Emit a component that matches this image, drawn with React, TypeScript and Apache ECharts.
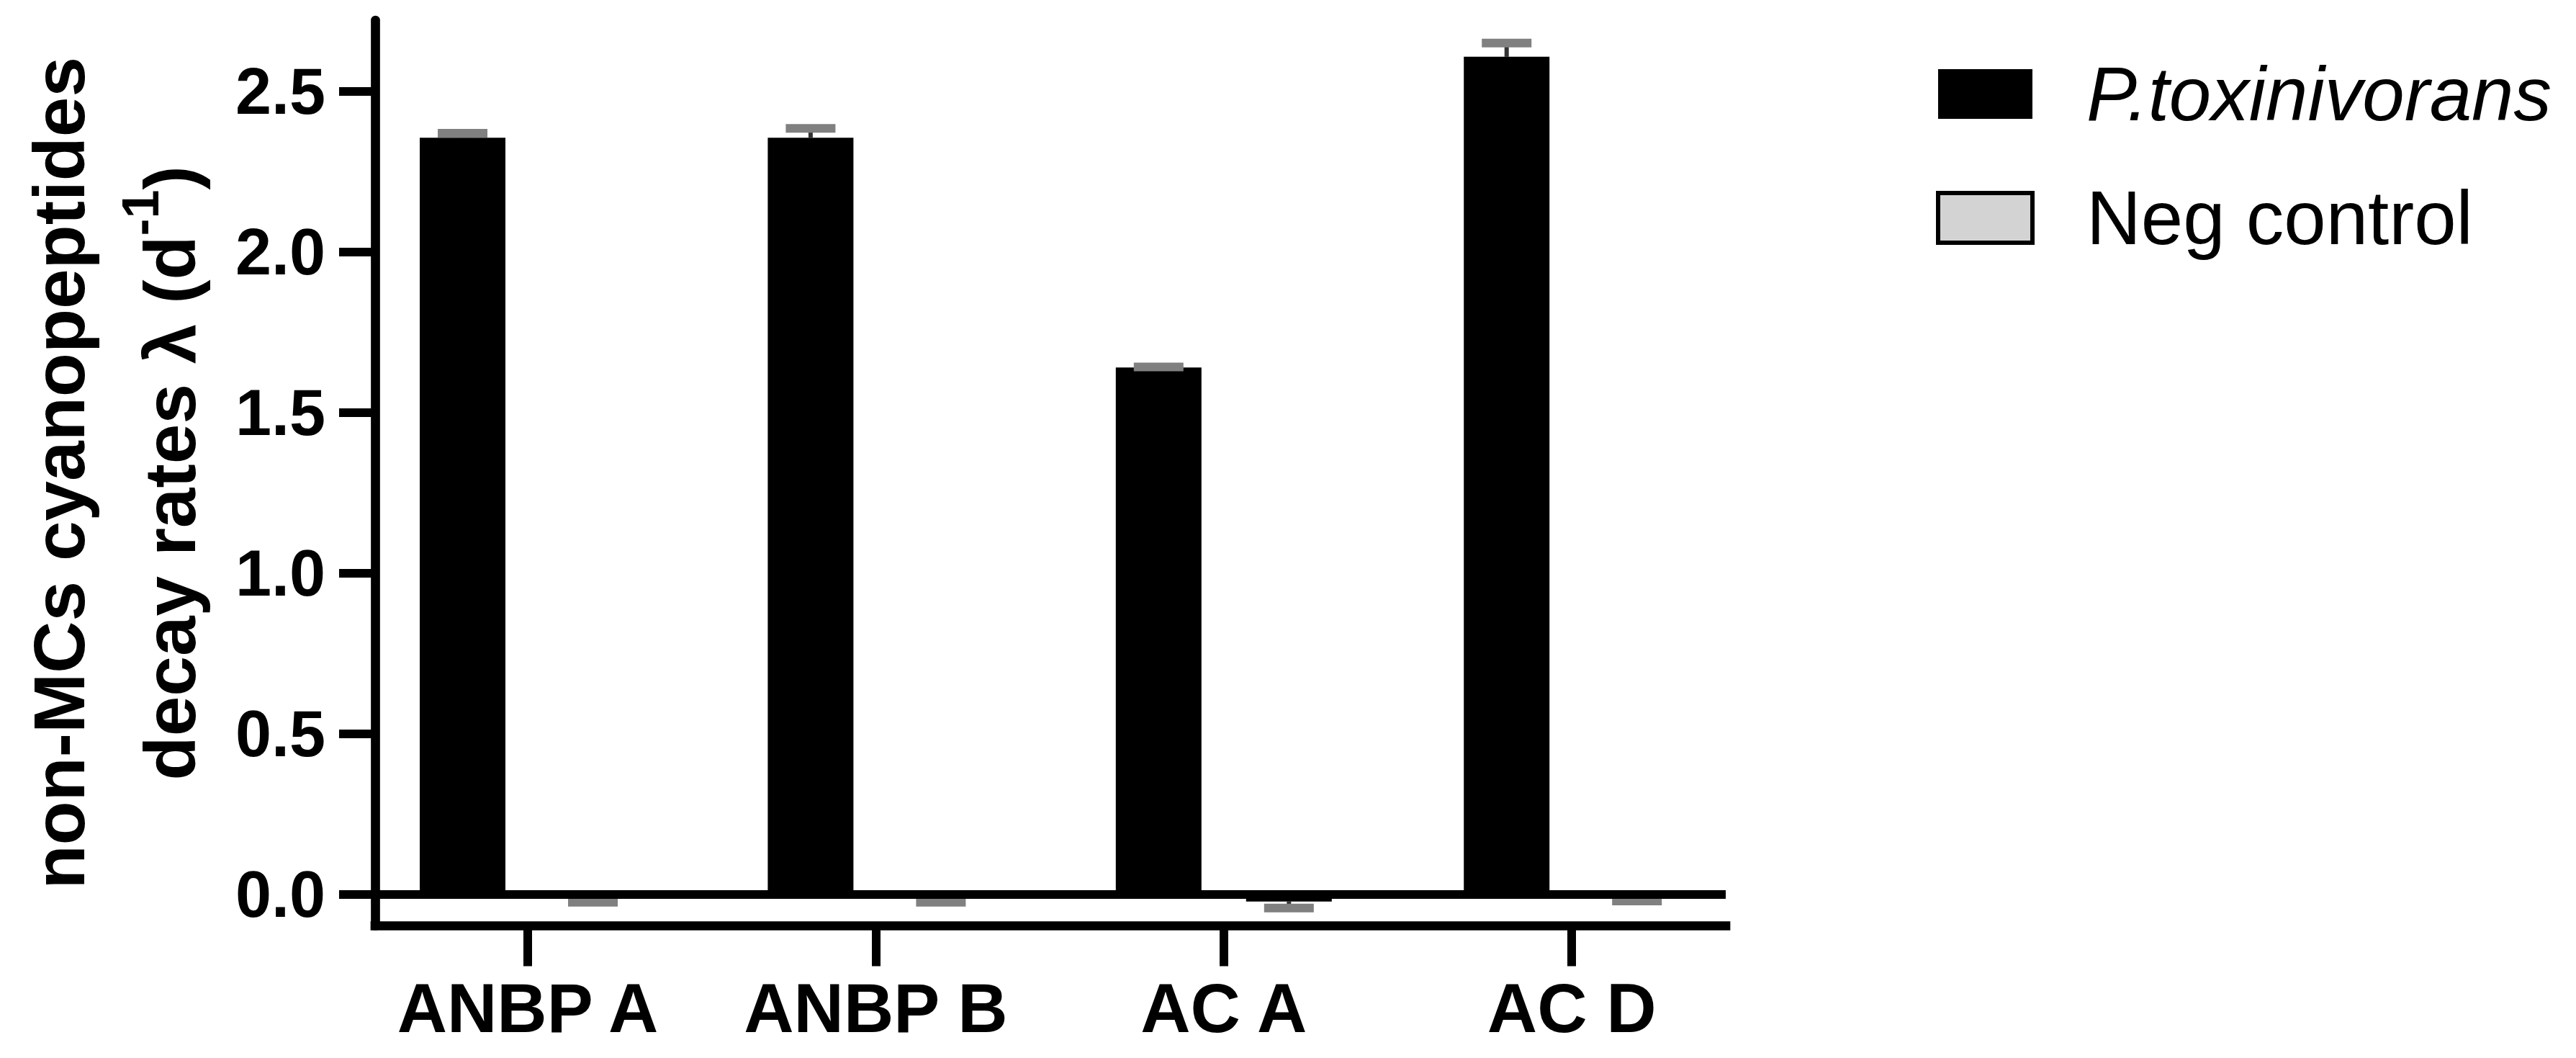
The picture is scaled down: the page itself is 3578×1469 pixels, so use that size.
import React, { useEffect, useRef } from "react";
import * as echarts from "echarts";

// ---------- data ----------
const categories = ["ANBP A", "ANBP B", "AC A", "AC D"];
const seriesNames = ["P.toxinivorans", "Neg control"];
const ptoxMeans = [2.355, 2.355, 1.64, 2.607];
const ptoxErrors = [0.014, 0.029, 0.002, 0.043];
const negMeans = [-0.008, -0.008, -0.022, -0.005];
const negErrors = [0.016, 0.016, 0.02, 0.015];
const yTickValues = [0, 0.5, 1, 1.5, 2, 2.5];

// ---------- style ----------
const FONT = '"Liberation Sans", Arial, Helvetica, sans-serif';
const BAR_WIDTH = 119;
const BAR_GAP_PX = 62;
const HALF_STEP = (BAR_WIDTH + BAR_GAP_PX) / 2;
const CAP_HALF = 34.5;

function makeErrorRenderer(offset: number) {
  return (params: any, api: any) => {
    const x = api.value(0);
    const m = api.value(1);
    const e = api.value(2);
    const sign = m >= 0 ? 1 : -1;
    const base = api.coord([x, m]);
    const tip = api.coord([x, m + sign * e]);
    const cx = base[0] + offset;
    return {
      type: "group",
      children: [
        {
          type: "line",
          shape: { x1: cx, y1: base[1], x2: cx, y2: tip[1] },
          style: { stroke: "#333333", lineWidth: 6 },
        },
        {
          type: "line",
          shape: { x1: cx - CAP_HALF, y1: tip[1], x2: cx + CAP_HALF, y2: tip[1] },
          style: { stroke: "#808080", lineWidth: 12 },
        },
      ],
    };
  };
}

export default function App() {
  const ref = useRef<HTMLDivElement>(null);

  useEffect(() => {
    if (!ref.current) return;
    const chart = echarts.init(ref.current, null, { renderer: "svg" });

    const ptoxData = categories.map((_, i) => [i, ptoxMeans[i]]);
    const negData = categories.map((_, i) => [i, negMeans[i]]);
    const ptoxErrData = categories.map((_, i) => [i, ptoxMeans[i], ptoxErrors[i]]);
    const negErrData = categories.map((_, i) => [i, negMeans[i], negErrors[i]]);

    const option: any = {
      animation: false,
      backgroundColor: "#ffffff",
      textStyle: { fontFamily: FONT, color: "#000" },
      grid: {
        left: 521,
        top: 28,
        width: 1876,
        height: 1257.5,
        containLabel: false,
        outerBoundsMode: "none",
      },
      legend: {
        orient: "vertical",
        left: 2684,
        top: 73,
        itemWidth: 131,
        itemHeight: 69,
        itemGap: 67,
        icon: "rect",
        selectedMode: false,
        textStyle: {
          fontFamily: FONT,
          fontSize: 105,
          color: "#000",
          padding: [0, 0, 0, 70],
        },
        data: [
          {
            name: seriesNames[0],
            itemStyle: { color: "#000", borderWidth: 0 },
            textStyle: { fontStyle: "italic" },
          },
          {
            name: seriesNames[1],
            itemStyle: { color: "#d3d3d3", borderColor: "#000", borderWidth: 6 },
          },
        ],
      },
      xAxis: {
        type: "value",
        min: -0.4386,
        max: 3.4423,
        splitLine: { show: false },
        axisLine: {
          show: true,
          onZero: false,
          lineStyle: { color: "#000", width: 12.7, cap: "square" },
        },
        axisTick: {
          show: true,
          customValues: [0, 1, 2, 3],
          length: 56,
          lineStyle: { color: "#000", width: 12 },
        },
        axisLabel: {
          show: true,
          customValues: [0, 1, 2, 3],
          formatter: (v: number) => categories[Math.round(v)] ?? "",
          fontFamily: FONT,
          fontSize: 96,
          fontWeight: "bold",
          color: "#000",
          margin: 66,
        },
      },
      yAxis: {
        type: "value",
        min: -0.0975,
        max: 2.721,
        splitLine: { show: false },
        axisLine: {
          show: true,
          onZero: false,
          lineStyle: { color: "#000", width: 12.7 },
        },
        axisTick: {
          show: true,
          customValues: yTickValues,
          length: 50,
          lineStyle: { color: "#000", width: 12 },
        },
        axisLabel: {
          show: true,
          customValues: yTickValues,
          formatter: (v: number) => v.toFixed(1),
          fontFamily: FONT,
          fontSize: 90,
          fontWeight: "bold",
          color: "#000",
          margin: 69,
        },
        name: "{t|non-MCs cyanopeptides}\n{t|decay rates λ (d}{s|-1}{t|)}",
        nameLocation: "middle",
        nameRotate: 90,
        nameGap: 208,
        nameTextStyle: {
          fontFamily: FONT,
          fontSize: 100,
          fontWeight: "bold",
          color: "#000",
          lineHeight: 154,
          rich: {
            t: {
              fontFamily: FONT,
              fontSize: 100,
              fontWeight: "bold",
              color: "#000",
              lineHeight: 154,
            },
            s: {
              fontFamily: FONT,
              fontSize: 72,
              fontWeight: "bold",
              color: "#000",
              lineHeight: 72,
              verticalAlign: "top",
            },
          },
        },
      },
      series: [
        {
          name: seriesNames[0],
          type: "bar",
          data: ptoxData,
          barWidth: BAR_WIDTH,
          barGap: (BAR_GAP_PX / BAR_WIDTH) * 100 + "%",
          itemStyle: { color: "#000" },
          z: 2,
        },
        {
          name: seriesNames[1],
          type: "bar",
          data: negData,
          barWidth: BAR_WIDTH,
          barGap: (BAR_GAP_PX / BAR_WIDTH) * 100 + "%",
          itemStyle: { color: "#d3d3d3", borderColor: "#000", borderWidth: 6 },
          z: 2,
        },
        {
          name: "ptoxErr",
          type: "custom",
          data: ptoxErrData,
          renderItem: makeErrorRenderer(-HALF_STEP),
          z: 3,
          silent: true,
        },
        {
          name: "negErr",
          type: "custom",
          data: negErrData,
          renderItem: makeErrorRenderer(HALF_STEP),
          z: 4,
          silent: true,
          markLine: {
            silent: true,
            symbol: ["none", "none"],
            label: { show: false },
            lineStyle: { color: "#000", width: 12, type: "solid" },
            data: [{ yAxis: 0 }],
          },
        },
      ],
    };

    chart.setOption(option);
    return () => chart.dispose();
  }, []);

  return (
    <div
      ref={ref}
      style={{
        position: "fixed",
        left: 0,
        top: 0,
        width: 3578,
        height: 1469,
        background: "#fff",
      }}
    />
  );
}
